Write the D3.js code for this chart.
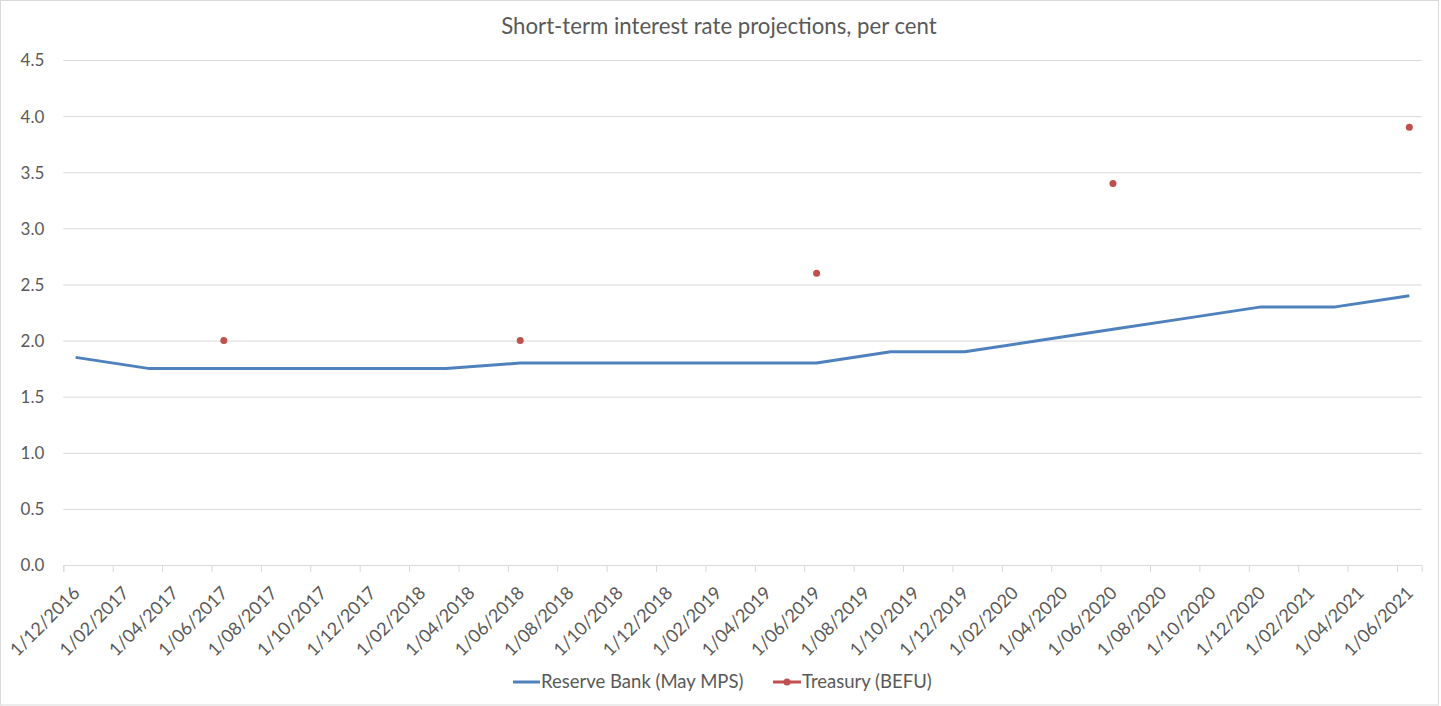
<!DOCTYPE html>
<html>
<head>
<meta charset="utf-8">
<script src="https://cdn.jsdelivr.net/npm/d3@7"></script>
<style>
  body { margin: 0; background: #fff; }
  text { font-family: Lato, "Open Sans", sans-serif; fill: #595959; }
</style>
</head>
<body>
<div id="chart"></div>
<script>
// quarterly Reserve Bank projections (May MPS)
const rbDates = ["2016-12", "2017-03", "2017-06", "2017-09", "2017-12", "2018-03", "2018-06", "2018-09", "2018-12",
                 "2019-03", "2019-06", "2019-09", "2019-12", "2020-03", "2020-06", "2020-09", "2020-12", "2021-03", "2021-06"]
const rbValues = [1.85, 1.75, 1.75, 1.75, 1.75, 1.75, 1.8, 1.8, 1.8, 1.8, 1.8, 1.9, 1.9, 2.0, 2.1, 2.2, 2.3, 2.3, 2.4]

// Treasury (BEFU), June years only
const tsyDates = ["2017-06", "2018-06", "2019-06", "2020-06", "2021-06"]
const tsyValues = [2.0, 2.0, 2.6, 3.4, 3.9]

const yTicks = [0, 0.5, 1.0, 1.5, 2.0, 2.5, 3.0, 3.5, 4.0, 4.5]
const seriesNames = ["Reserve Bank (May MPS)", "Treasury (BEFU)"]

const width = 1441
const height = 706
const parseMonth = d3.utcParse("%Y-%m")
const startMonth = parseMonth("2016-12")
const endMonth = parseMonth("2021-07")
// Excel date axis with month base unit: every month has the same width
const monthIdx = d => d3.utcMonth.count(startMonth, d)

const xScale = d3.scaleLinear()
    .domain([0, monthIdx(endMonth)])
    .range([63.3, 1421.7])
const yScale = d3.scaleLinear()
    .domain([0, 4.5])
    .range([565, 60])

const svg = d3.select("#chart")
    .append("svg")
    .attr("width", width)
    .attr("height", height)

// chart border
svg.append("rect")
    .attr("x", 0.5).attr("y", 0.5)
    .attr("width", 1438).attr("height", 704.5)
    .attr("fill", "none")
    .attr("stroke", "#d9d9d9")

svg.append("text")
    .attr("x", 719)
    .attr("y", 34)
    .attr("text-anchor", "middle")
    .attr("font-size", "22.2px")
    .text("Short-term interest rate projections, per cent")

// y gridlines + labels
const yAxis = d3.axisLeft(yScale)
    .tickValues(yTicks)
    .tickFormat(d3.format(".1f"))
    .tickSize(-(xScale.range()[1] - xScale.range()[0]))
    .tickPadding(19)

svg.append("g")
    .attr("transform", "translate(" + xScale.range()[0] + ",0)")
    .call(yAxis)
    .call(g => g.select(".domain").remove())
    .call(g => g.selectAll("line").attr("stroke", "#d9d9d9"))
    .call(g => g.selectAll("text").attr("font-size", "17px").attr("fill", "#595959").attr("dy", "0.35em"))

// x axis, tick every two months starting at the first month
const xTickDates = d3.utcMonth.range(startMonth, endMonth, 2)
const xAxis = d3.axisBottom(xScale)
    .tickValues(xTickDates.map(monthIdx))
    .tickFormat((d, i) => d3.utcFormat("%-d/%m/%Y")(xTickDates[i]))
    .tickSize(7)

svg.append("g")
    .attr("transform", "translate(0," + yScale(0) + ")")
    .call(xAxis)
    .call(g => g.select(".domain").attr("stroke", "#d9d9d9"))
    .call(g => g.selectAll("line").attr("stroke", "#d9d9d9"))
    .call(g => g.selectAll("text")
        .attr("font-size", "18px")
        .attr("fill", "#595959")
        .attr("text-anchor", "end")
        .attr("dy", null)
        .attr("y", 0)
        .attr("transform", "translate(17,29) rotate(-45)"))

// points sit half a month inside their month
const xPos = d => xScale(monthIdx(parseMonth(d)) + 0.5)

const rbData = rbDates.map((d, i) => ({date: d, value: rbValues[i]}))
const line = d3.line()
    .x(d => xPos(d.date))
    .y(d => yScale(d.value))

svg.append("path")
    .datum(rbData)
    .attr("d", line)
    .attr("fill", "none")
    .attr("stroke", "#4F81BD")
    .attr("stroke-width", 3)
    .attr("stroke-linejoin", "round")

svg.append("g")
    .selectAll("circle")
    .data(tsyDates.map((d, i) => ({date: d, value: tsyValues[i]})))
    .join("circle")
    .attr("cx", d => xPos(d.date))
    .attr("cy", d => yScale(d.value))
    .attr("r", 3.5)
    .attr("fill", "#C0504D")

// legend
const legend = svg.append("g").attr("transform", "translate(0,682)")
legend.append("line")
    .attr("x1", 513).attr("x2", 540)
    .attr("stroke", "#4F81BD").attr("stroke-width", 3)
legend.append("text")
    .attr("x", 541).attr("dy", "0.35em")
    .attr("font-size", "18.5px")
    .text(seriesNames[0])
legend.append("line")
    .attr("x1", 773).attr("x2", 801)
    .attr("stroke", "#C0504D").attr("stroke-width", 3)
legend.append("circle")
    .attr("cx", 787).attr("r", 3.5)
    .attr("fill", "#C0504D")
legend.append("text")
    .attr("x", 802).attr("dy", "0.35em")
    .attr("font-size", "18.5px")
    .text(seriesNames[1])
</script>
</body>
</html>
